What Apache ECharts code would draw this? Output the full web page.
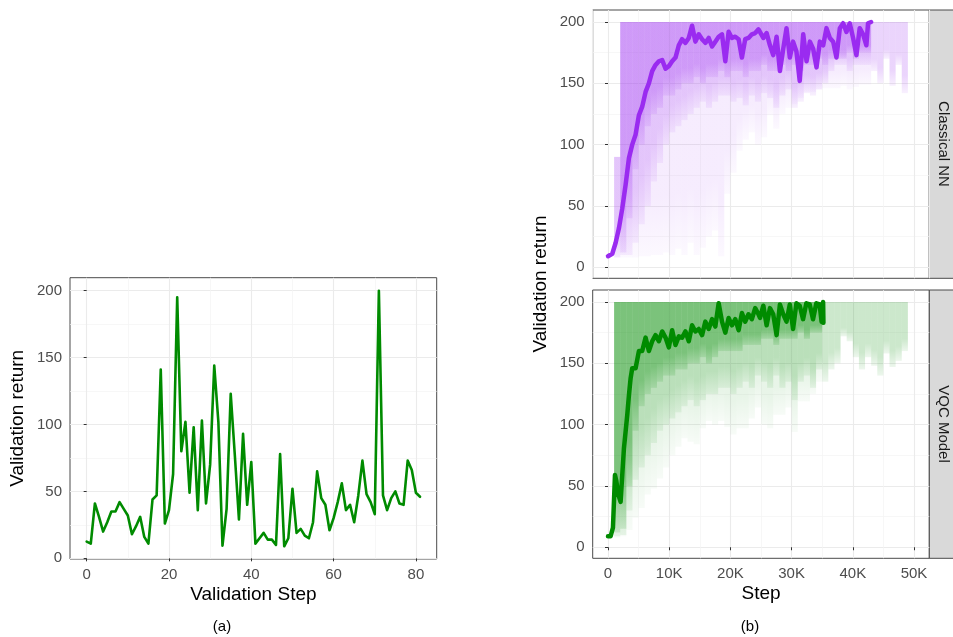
<!DOCTYPE html>
<html>
<head>
<meta charset="utf-8">
<script src="https://cdn.jsdelivr.net/npm/echarts@6/dist/echarts.min.js"></script>
<style>
  html, body { margin: 0; padding: 0; background: #fff; }
  #chart { width: 953px; height: 637px; }
</style>
</head>
<body>
<div id="chart"></div>
<script>
// (a) validation return at each validation step
const validationReturn = [12.5, 11, 41, 31, 20, 27, 35, 35, 42, 37, 32, 18, 24, 31, 16, 11, 44, 47, 141, 26,
  36, 63, 195, 80, 102, 49, 98, 36, 103, 41, 70, 144, 102, 9.5, 37, 123, 77, 29, 93, 40,
  72, 11, 15, 19, 14, 14, 10, 78, 9, 15, 52, 19, 22, 17, 15, 27, 65, 45, 40, 21,
  30, 42, 56, 36, 40, 27, 47, 73, 48, 42, 33, 200, 47, 36, 45, 50, 41, 40, 73, 66, 49, 46]

const ticksA_x = [0, 20, 40, 60, 80]
const ticksY = [0, 50, 100, 150, 200]
const ticksB_x = [0, 10000, 20000, 30000, 40000, 50000]

// (b) spread of the individual runs, binned every 1000 steps (bin start)
const bandSteps = [0, 1000, 2000, 3000, 4000, 5000, 6000, 7000, 8000, 9000,
  10000, 11000, 12000, 13000, 14000, 15000, 16000, 17000, 18000, 19000,
  20000, 21000, 22000, 23000, 24000, 25000, 26000, 27000, 28000, 29000,
  30000, 31000, 32000, 33000, 34000, 35000, 36000, 37000, 38000, 39000,
  40000, 41000, 42000, 43000, 44000, 45000, 46000, 47000, 48000]
const bandBin = 1000

// Classical NN
const nnUpper = [null, 90, 200, 200, 200, 200, 200, 200, 200, 200,
  200, 200, 200, 200, 200, 200, 200, 200, 200, 200,
  200, 200, 200, 200, 200, 200, 200, 200, 200, 200,
  200, 200, 200, 200, 200, 200, 200, 200, 200, 200,
  200, 200, 200, 200, 200, 200, 200, 200, 200]
const nnLowFaint = [null, 8, 8, 8, 8, 9, 9, 10, 10, 12,
  10, 15, 10, 20, 10, 16, 25, 30, 9, 60,
  77, 95, 104, 110, 100, 106, 124, 113, 125, 130,
  133, 138, 143, 143, 145, 146, 146, 146, 148, 145,
  147, 149, 149, null, null, null, null, null, null]
const nnLowLight = [null, 8, 10, 10, 20, 35, 50, 70, 85, 100,
  110, 115, 120, 125, 130, 135, 130, 135, 140, 140,
  135, 138, 132, 140, 135, 142, 138, 130, 140, 145,
  130, 135, 142, 140, 145, 150, 160, 165, 165, 160,
  165, 165, 165, 160, 150, 170, 148, 165, 142]
const nnLowDense = [null, null, 12, 40, 80, 100, 115, 125, 130, 140,
  140, 145, 150, 150, 155, 150, 155, 155, 160, 155,
  160, 160, 155, 160, 160, 165, 160, 160, 165, 160,
  165, 160, 165, 165, 170, 165, 170, 170, 170, 175,
  170, 175, 175, null, null, null, null, null, null]
const nnMeanSteps = [0, 700, 1250, 1790, 2330, 2870, 3420, 3960, 4500, 5050,
  5590, 6140, 6680, 7220, 7770, 8310, 8850, 9400, 9940, 10480,
  11030, 11570, 12110, 12660, 13200, 13740, 14280, 14830, 15370, 15910,
  16460, 17000, 17540, 18080, 18630, 19170, 19710, 20250, 20800, 21340,
  21880, 22420, 22960, 23510, 24050, 24590, 24840, 25380, 25920, 26460,
  27000, 27550, 28090, 28630, 29170, 29710, 30240, 30790, 31330, 31900,
  32440, 32990, 33530, 34070, 34620, 35160, 35700, 36250, 36790, 37330,
  37880, 38420, 38960, 39500, 40050, 40590, 41130, 41680, 42220, 42490, 43000]
const nnMeanValues = [9, 11, 20, 32, 48, 67, 89, 100, 108, 124,
  131, 143, 150, 160, 165, 168, 169, 162, 164, 168,
  171, 181, 186, 183, 187, 197, 184, 190, 186, 183,
  187, 180, 184, 188, 190, 168, 192, 187, 188, 186,
  171, 186, 187, 190, 191, 194, 195, 187, 191, 181,
  173, 188, 160, 178, 195, 171, 184, 176, 152, 190,
  168, 184, 178, 163, 184, 181, 195, 187, 184, 171,
  195, 199, 192, 199, 187, 173, 195, 190, 181, 199, 200]

// VQC Model
const vqcUpper = [null, 200, 200, 200, 200, 200, 200, 200, 200, 200,
  200, 200, 200, 200, 200, 200, 200, 200, 200, 200,
  200, 200, 200, 200, 200, 200, 200, 200, 200, 200,
  200, 200, 200, 200, 200, 200, 200, 200, 200, 200,
  200, 200, 200, 200, 200, 200, 200, 200, 200]
const vqcLowFaint = [null, 8, 9, 14, 24, 32, 43, 48, 56, 65,
  75, 82, 89, 86, 84, 97, 103, 100, 103, 98,
  92, 97, 97, 105, 114, 100, 97, 108, 108, 114,
  94, 119, 119, 125, 135, null, null, null, null, null,
  null, null, null, null, null, null, null, null, null]
const vqcLowLight = [null, 9, 10, 30, 55, 65, 75, 85, 95, 100,
  105, 110, 115, 120, 115, 120, 125, 125, 130, 130,
  125, 130, 135, 130, 140, 135, 130, 140, 130, 135,
  120, 135, 140, 130, 145, 135, 145, 150, 172, 168,
  155, 145, 155, 148, 140, 158, 147, 152, 160]
const vqcLowDense = [null, 12, 15, 50, 95, 115, 125, 130, 135, 140,
  140, 145, 145, 150, 150, 155, 150, 155, 160, 160,
  160, 160, 165, 165, 165, 170, 170, 165, 170, 170,
  170, 175, 170, 175, 175, null, null, null, null, null,
  null, null, null, null, null, null, null, null, null]
const vqcMeanSteps = [0, 430, 810, 1140, 1360, 1680, 2060, 2330, 2610, 2870,
  3150, 3420, 3700, 3960, 4510, 5050, 5590, 6140, 6680, 7220,
  7770, 8310, 8850, 9400, 9940, 10480, 11030, 11570, 12110, 12660,
  13200, 13740, 14280, 14830, 15370, 15910, 16460, 17000, 17540, 18080,
  18630, 19170, 19710, 20250, 20800, 21340, 21880, 22420, 22960, 23510,
  24050, 24590, 24840, 25380, 25920, 26460, 27000, 27550, 28090, 28630,
  29170, 29710, 30240, 30790, 31330, 31870, 32410, 32960, 33500, 34040,
  34580, 34900, 35150, 35200]
const vqcMeanValues = [9, 9, 16, 59, 54, 43, 37, 59, 81, 94,
  108, 124, 138, 146, 146, 160, 160, 171, 160, 168,
  173, 168, 176, 171, 163, 177, 165, 172, 171, 176,
  168, 181, 176, 178, 173, 184, 178, 186, 180, 199,
  184, 175, 187, 181, 186, 177, 191, 184, 190, 186,
  195, 190, 187, 197, 181, 195, 190, 173, 198, 190,
  184, 198, 178, 199, 197, 186, 199, 198, 186, 199,
  198, 184, 200, 183]

const PURPLE = '#9A2BF0'
const GREEN = '#008B00'
const FONT = 'Liberation Sans'

const zip = (xs, ys) => xs.map((x, i) => [x, ys[i]])

// one translucent layer of runs: a bar per bin from its lower bound up to the cap,
// fading out toward the lower end like the overlapping run traces do
function bandSeries(axisIdx, lows, uppers, rgb, alpha) {
  const data = []
  bandSteps.forEach((s, i) => {
    if (lows[i] != null && uppers[i] != null) data.push([s, lows[i], uppers[i]])
  })
  const fill = new echarts.graphic.LinearGradient(0, 0, 0, 1, [
    { offset: 0, color: `rgba(${rgb},${alpha})` },
    { offset: 0.75, color: `rgba(${rgb},${alpha})` },
    { offset: 1, color: `rgba(${rgb},${alpha * 0.35})` }
  ])
  return {
    type: 'custom',
    xAxisIndex: axisIdx,
    yAxisIndex: axisIdx,
    silent: true,
    encode: { x: 0, y: [1, 2] },
    renderItem: (params, api) => {
      const a = api.coord([api.value(0), api.value(2)])
      const b = api.coord([api.value(0) + bandBin, api.value(1)])
      return {
        type: 'rect',
        shape: { x: a[0], y: a[1], width: b[0] - a[0], height: b[1] - a[1] },
        style: { fill }
      }
    },
    data
  }
}

function lineSeries(axisIdx, data, color, width) {
  return {
    type: 'line',
    xAxisIndex: axisIdx,
    yAxisIndex: axisIdx,
    data,
    showSymbol: false,
    silent: true,
    z: 5,
    lineStyle: { color, width, join: 'round', cap: 'round' }
  }
}

const grid = {
  show: true,
  borderColor: '#4a4a4a',
  borderWidth: 1,
  backgroundColor: 'transparent'
}
const splitLine = { show: true, lineStyle: { color: '#EBEBEB', width: 1.1 } }
const minorSplitLine = { show: true, lineStyle: { color: '#F3F3F3', width: 0.7 } }
const tickLabel = { color: '#4D4D4D', fontSize: 15, fontFamily: FONT }
const axisTick = { show: true, length: 3, lineStyle: { color: '#333' } }

function valueAxis(opts) {
  return Object.assign({
    type: 'value',
    axisLine: { show: false },
    splitLine,
    minorSplitLine,
    minorTick: { show: false, splitNumber: 2 },
    nameTextStyle: { color: '#000', fontSize: 19, fontFamily: FONT }
  }, opts)
}

const kFormat = v => (v === 0 ? '0' : v / 1000 + 'K')

const chart = echarts.init(document.getElementById('chart'), null, { renderer: 'canvas' })

chart.setOption({
  backgroundColor: '#fff',
  animation: false,
  grid: [
    Object.assign({ left: 70, top: 277.7, width: 366.7, height: 281.3 }, grid),
    Object.assign({ left: 592.7, top: 10, width: 336.6, height: 268.3 }, grid),
    Object.assign({ left: 592.7, top: 290, width: 336.6, height: 268.3 }, grid)
  ],
  xAxis: [
    valueAxis({
      gridIndex: 0, min: -4.05, max: 85.05, splitNumber: 4,
      axisTick: Object.assign({ customValues: ticksA_x }, axisTick),
      axisLabel: Object.assign({ customValues: ticksA_x, margin: 8 }, tickLabel),
      name: 'Validation Step', nameLocation: 'middle', nameGap: 26
    }),
    valueAxis({
      gridIndex: 1, min: -2500, max: 52500, splitNumber: 5,
      axisTick: { show: false }, axisLabel: { show: false }
    }),
    valueAxis({
      gridIndex: 2, min: -2500, max: 52500, splitNumber: 5,
      axisTick: Object.assign({ customValues: ticksB_x }, axisTick),
      axisLabel: Object.assign({ customValues: ticksB_x, margin: 8, formatter: kFormat }, tickLabel),
      name: 'Step', nameLocation: 'middle', nameGap: 26
    })
  ],
  yAxis: [
    valueAxis({
      gridIndex: 0, min: -0.5, max: 209.7, splitNumber: 4,
      axisTick: Object.assign({ customValues: ticksY }, axisTick),
      axisLabel: Object.assign({ customValues: ticksY, margin: 8 }, tickLabel),
      name: 'Validation return', nameLocation: 'middle', nameGap: 43
    }),
    valueAxis({
      gridIndex: 1, min: -9, max: 209.8, splitNumber: 4,
      axisTick: Object.assign({ customValues: ticksY }, axisTick),
      axisLabel: Object.assign({ customValues: ticksY, margin: 8 }, tickLabel)
    }),
    valueAxis({
      gridIndex: 2, min: -9, max: 209.8, splitNumber: 4,
      axisTick: Object.assign({ customValues: ticksY }, axisTick),
      axisLabel: Object.assign({ customValues: ticksY, margin: 8 }, tickLabel)
    })
  ],
  series: [
    lineSeries(0, validationReturn.map((v, i) => [i, v]), GREEN, 2.6),

    bandSeries(1, nnLowFaint, nnUpper, '154,43,240', 0.09),
    bandSeries(1, nnLowLight, nnUpper, '154,43,240', 0.2),
    bandSeries(1, nnLowDense, nnUpper, '154,43,240', 0.28),
    lineSeries(1, zip(nnMeanSteps, nnMeanValues), PURPLE, 4.5),

    bandSeries(2, vqcLowFaint, vqcUpper, '0,139,0', 0.09),
    bandSeries(2, vqcLowLight, vqcUpper, '0,139,0', 0.2),
    bandSeries(2, vqcLowDense, vqcUpper, '0,139,0', 0.34),
    lineSeries(2, zip(vqcMeanSteps, vqcMeanValues), GREEN, 4.5)
  ],
  graphic: [
    // facet strips
    { type: 'rect', shape: { x: 929.3, y: 10, width: 30, height: 268.3 },
      style: { fill: '#D9D9D9', stroke: '#4a4a4a', lineWidth: 1 } },
    { type: 'rect', shape: { x: 929.3, y: 290, width: 30, height: 268.3 },
      style: { fill: '#D9D9D9', stroke: '#4a4a4a', lineWidth: 1 } },
    { type: 'text', x: 943, y: 144, rotation: -Math.PI / 2,
      style: { text: 'Classical NN', fill: '#1A1A1A', fontSize: 15, fontFamily: FONT, align: 'center', verticalAlign: 'middle' } },
    { type: 'text', x: 943, y: 424, rotation: -Math.PI / 2,
      style: { text: 'VQC Model', fill: '#1A1A1A', fontSize: 15, fontFamily: FONT, align: 'center', verticalAlign: 'middle' } },
    // shared y title of (b)
    { type: 'text', x: 541, y: 284, rotation: Math.PI / 2,
      style: { text: 'Validation return', fill: '#000', fontSize: 19, fontFamily: FONT, align: 'center', verticalAlign: 'middle' } },
    // captions
    { type: 'text', x: 222, y: 627,
      style: { text: '(a)', fill: '#000', fontSize: 15, fontFamily: FONT, align: 'center', verticalAlign: 'middle' } },
    { type: 'text', x: 750, y: 627,
      style: { text: '(b)', fill: '#000', fontSize: 15, fontFamily: FONT, align: 'center', verticalAlign: 'middle' } }
  ]
})
</script>
</body>
</html>
